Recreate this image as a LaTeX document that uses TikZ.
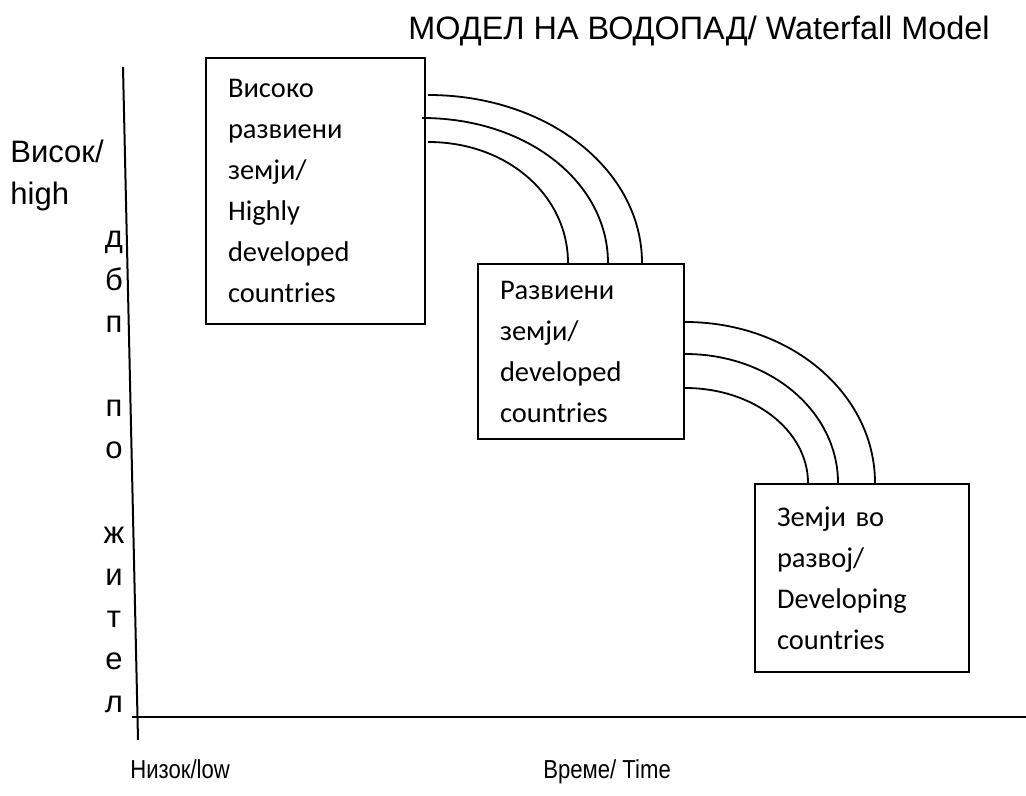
\documentclass[tikz,border=0pt]{standalone}
\usepackage{fontspec}
\setmainfont{Liberation Sans}
\newfontfamily\calibri{Carlito}
\newcommand{\narrowtxt}[1]{\scalebox{0.85}[1]{#1}}
\tikzset{
  stage/.style={draw,line width=1pt,anchor=north west,align=left,font=\calibri\fontsize{14.25}{20.5}\selectfont,inner xsep=11pt,inner ysep=0pt},
  axislbl/.style={font=\fontsize{15.5}{21}\selectfont,inner sep=0pt},
  lowlbl/.style={font=\fontsize{13}{15}\selectfont,inner sep=0pt},
  flow/.style={line width=0.9pt}
}
\begin{document}
\begin{tikzpicture}[x=0.5pt,y=0.5pt]
      \useasboundingbox (0,0) rectangle (1026,796);
      \node[axislbl,font=\fontsize{16.2}{20}\selectfont,anchor=base west](title) at (408,756) {МОДЕЛ НА ВОДОПАД/ Waterfall Model};
      \node[axislbl,anchor=north west,align=left](high) at (10,656) {Висок/\\high};
      \foreach \ch/\k in {д/0,б/1,п/2,п/4,о/5,ж/7,и/8,т/9,е/10,л/11}
        \node[axislbl,anchor=base](g\k) at (114,548-42.2*\k) {\ch};
      \coordinate(ytop) at (123,729);
      \coordinate(ybot) at (138,56);
      \coordinate(xl) at (132,79);
      \coordinate(xr) at (1026,79);
      \draw[line width=1pt](ytop)--(ybot);
      \draw[line width=1pt](xl)--(xr);
      \node[stage,text width=87.5pt,minimum height=133pt](b1) at (205,739) {Високо\\развиени\\земји/\\Highly\\developed\\countries};
      \node[stage,text width=81pt,minimum height=87.5pt](b2) at (477,533) {Развиени\\земји/\\developed\\countries};
      \node[stage,text width=85pt,minimum height=94pt](b3) at (754,313) {Земји во\\развој/\\Developing\\countries};
      \foreach \sx/\dy/\dx/\cx/\cy in {1/19/82.5/120/93,-2/30.5/65.5/106/80,1/42.5/45.5/80/67}
        \draw[flow]([xshift=\sx,yshift=-\dy]b1.north east) .. controls +(\cx,0) and +(0,\cy) .. ([xshift=\dx]b2.north west);
      \foreach \dy/\dx/\cx/\cy in {29.5/60.5/106/89,45.5/42/86/71,62.5/27/69/52}
        \draw[flow]([yshift=-\dy]b2.north east) .. controls +(\cx,0) and +(0,\cy) .. ([xshift=\dx]b3.north west);
      \node[lowlbl,anchor=base west](low) at (130,17) {\narrowtxt{Низок/low}};
      \node[lowlbl,anchor=base west](time) at (543,17) {\narrowtxt{Време/ Time}};
\end{tikzpicture}
\end{document}
